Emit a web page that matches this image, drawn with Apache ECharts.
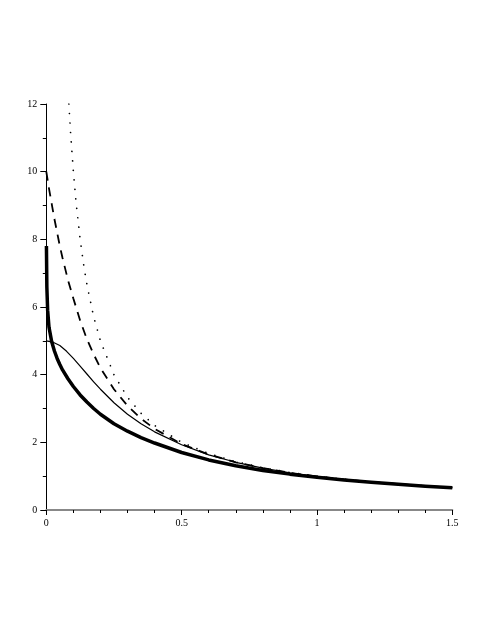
<!DOCTYPE html>
<html>
<head>
<meta charset="utf-8">
<script src="https://cdn.jsdelivr.net/npm/echarts@6/dist/echarts.min.js"></script>
<style>
html,body{margin:0;padding:0;background:#fff;}
#chart{width:491px;height:635px;}
</style>
</head>
<body>
<div id="chart"></div>
<script>
// x ticks / y ticks
const xTicks = [0, 0.5, 1, 1.5];
const yTicks = [0, 2, 4, 6, 8, 10, 12];

// thick solid curve
const thickX = [0.0005, 0.002, 0.005, 0.01, 0.02, 0.03, 0.04, 0.05, 0.06, 0.08, 0.1, 0.125, 0.15, 0.175, 0.2, 0.25, 0.3, 0.35, 0.4, 0.5, 0.6, 0.7, 0.8, 0.9, 1.0, 1.1, 1.2, 1.3, 1.4, 1.5];
const thickY = [7.8, 6.6, 5.9, 5.4, 4.97, 4.7, 4.48, 4.3, 4.14, 3.88, 3.65, 3.4, 3.19, 3.0, 2.83, 2.55, 2.33, 2.14, 1.98, 1.7, 1.48, 1.31, 1.17, 1.06, 0.97, 0.89, 0.82, 0.76, 0.705, 0.66];

// thin solid curve
const thinX = [0, 0.025, 0.05, 0.075, 0.1, 0.125, 0.15, 0.175, 0.2, 0.25, 0.3, 0.35, 0.4, 0.5, 0.6, 0.7, 0.8, 0.9, 1.0, 1.1, 1.2, 1.3, 1.4, 1.5];
const thinY = [5.0, 4.96, 4.86, 4.69, 4.48, 4.25, 4.02, 3.79, 3.57, 3.17, 2.83, 2.55, 2.31, 1.93, 1.63, 1.41, 1.24, 1.1, 0.99, 0.9, 0.825, 0.762, 0.708, 0.662];

// dashed curve
const dashX = [0, 0.01, 0.02, 0.03, 0.04, 0.05, 0.06, 0.08, 0.1, 0.125, 0.15, 0.175, 0.2, 0.25, 0.3, 0.35, 0.4, 0.5, 0.6, 0.7, 0.8, 0.9, 1.0, 1.1, 1.2, 1.3, 1.4, 1.5];
const dashY = [10.0, 9.5, 9.05, 8.6, 8.2, 7.8, 7.45, 6.8, 6.25, 5.6, 5.05, 4.6, 4.2, 3.57, 3.08, 2.7, 2.4, 1.95, 1.64, 1.41, 1.24, 1.1, 0.99, 0.905, 0.83, 0.765, 0.71, 0.665];

// dotted curve
const dotX = [0.0833, 0.09, 0.1, 0.11, 0.125, 0.14, 0.15, 0.175, 0.2, 0.25, 0.3, 0.35, 0.4, 0.5, 0.6, 0.7, 0.8, 0.9, 1.0, 1.1, 1.2, 1.3, 1.4, 1.5];
const dotY = [12.0, 11.1, 10.0, 9.09, 8.0, 7.14, 6.67, 5.71, 5.0, 4.0, 3.33, 2.86, 2.5, 2.0, 1.67, 1.43, 1.25, 1.11, 1.0, 0.91, 0.83, 0.77, 0.71, 0.67];

function pairs(xs, ys){ return xs.map((x,i)=>[x, ys[i]]); }

const chart = echarts.init(document.getElementById('chart'), null, {renderer:'canvas'});
const font = {fontFamily:'Liberation Serif', fontSize:10, color:'#000'};
const baseLine = {smooth:false, showSymbol:false, symbol:'none', animation:false, clip:true};
chart.setOption({
  animation:false,
  backgroundColor:'#fff',
  grid:{left:46.3, right:38.7, top:104, bottom:125, containLabel:false},
  xAxis:{
    type:'value', min:0, max:1.5, interval:0.5,
    axisLine:{show:true, onZero:false, lineStyle:{color:'#888', width:2}},
    axisTick:{show:true, length:5, inside:false, lineStyle:{color:'#000', width:1}},
    minorTick:{show:true, splitNumber:5, length:3, lineStyle:{color:'#000', width:1}},
    splitLine:{show:false},
    axisLabel:Object.assign({margin:8, formatter:v=>xTicks.includes(v)?String(v):''}, font)
  },
  yAxis:{
    type:'value', min:0, max:12, interval:2,
    axisLine:{show:true, onZero:false, lineStyle:{color:'#000', width:1}},
    axisTick:{show:true, length:6, lineStyle:{color:'#000', width:1}},
    minorTick:{show:true, splitNumber:2, length:3.5, lineStyle:{color:'#000', width:1}},
    splitLine:{show:false},
    axisLabel:Object.assign({margin:9, formatter:v=>yTicks.includes(v)?String(v):''}, font)
  },
  series:[
    Object.assign({type:'line', data:pairs(thickX, thickY), lineStyle:{color:'#000', width:3.5, join:'round'}}, baseLine),
    Object.assign({type:'line', data:pairs(thinX, thinY), lineStyle:{color:'#000', width:1.2, join:'round'}}, baseLine),
    Object.assign({type:'line', data:pairs(dashX, dashY), lineStyle:{color:'#000', width:1.8, type:[9,7]}}, baseLine),
    Object.assign({type:'line', data:pairs(dotX, dotY), lineStyle:{color:'#000', width:1.7, type:[0.01,9.5], cap:'round'}}, baseLine)
  ]
});
</script>
</body>
</html>
